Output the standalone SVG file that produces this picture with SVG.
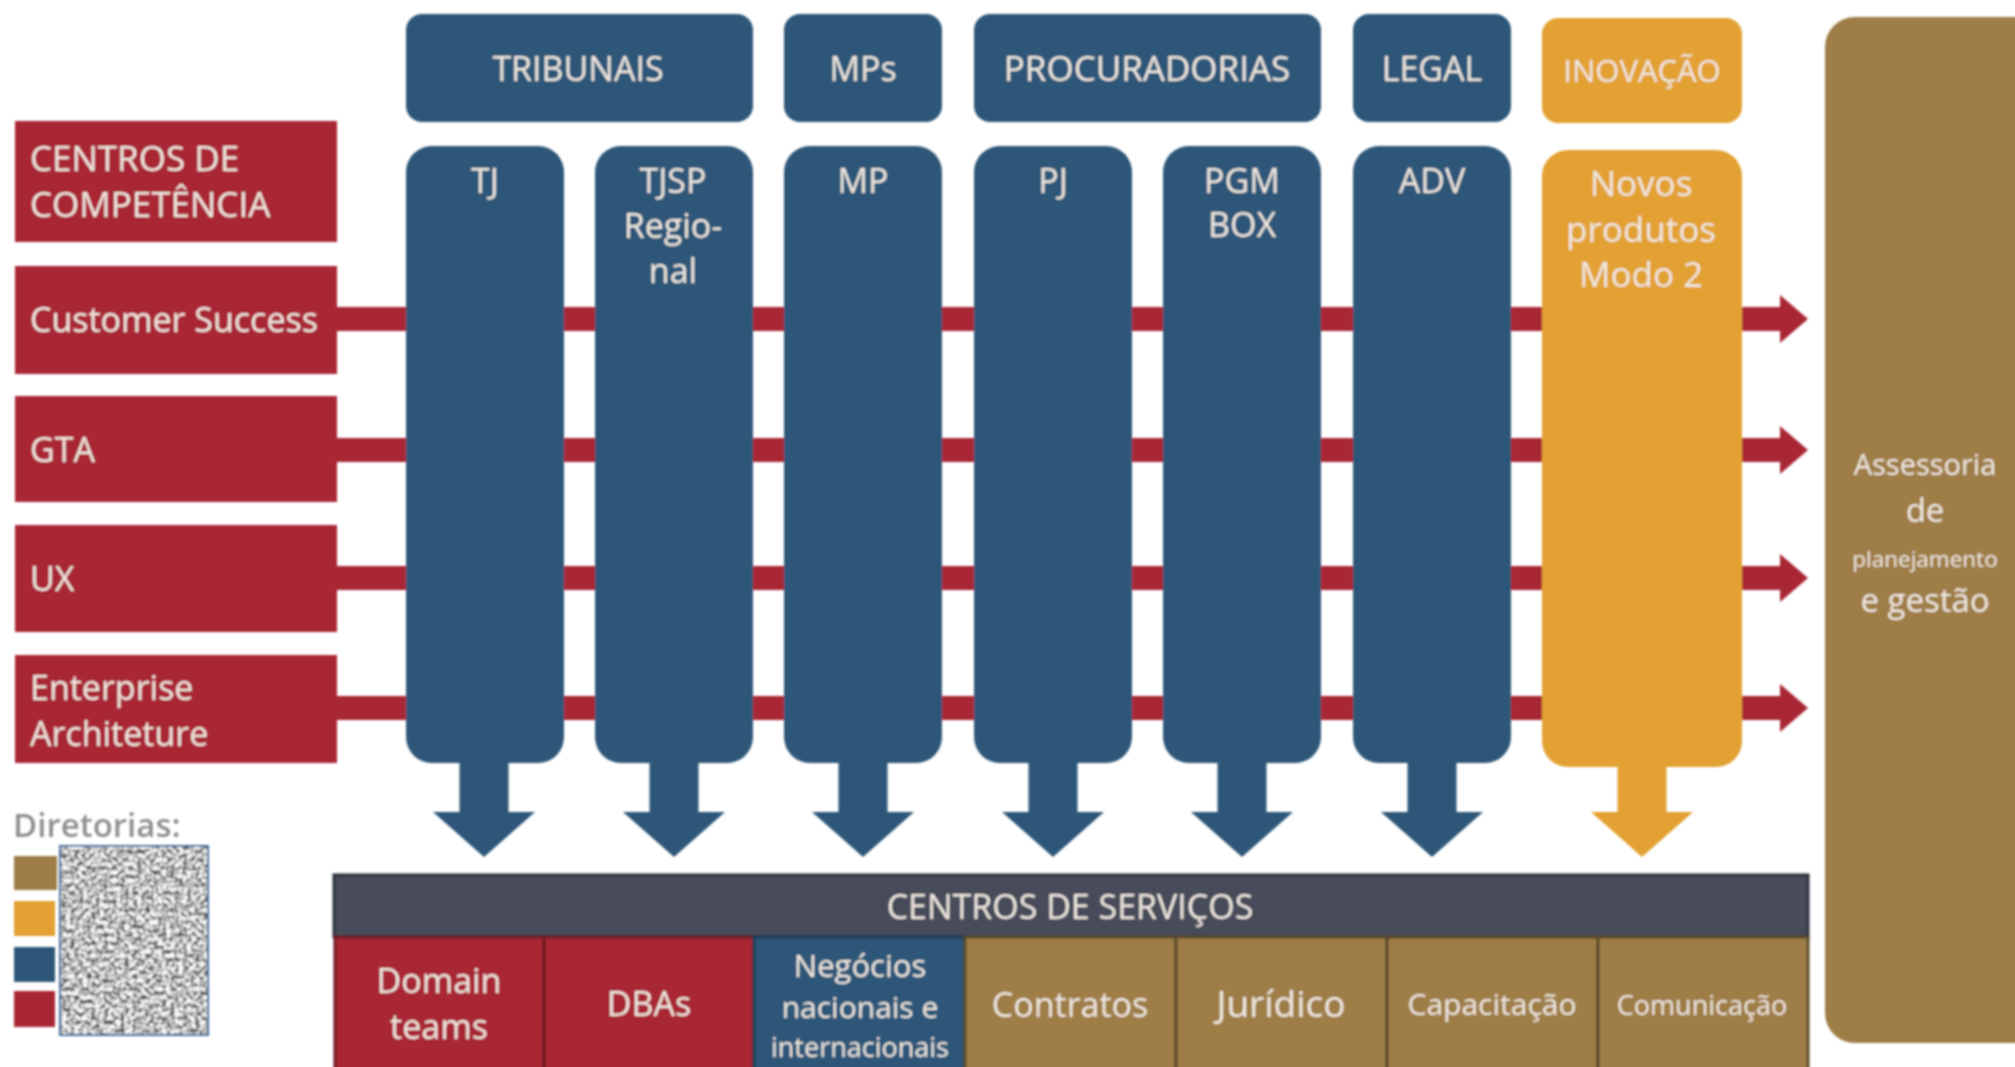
<svg xmlns="http://www.w3.org/2000/svg" width="2015" height="1067" viewBox="0 0 2015 1067">
<style>
text{font-family:"Open Sans","Liberation Sans",sans-serif;fill:#f0e8e0;text-anchor:middle;transform:translateY(1px)}
.l{text-anchor:start}
.red{fill:#a92735}.blue{fill:#2d5778}.or{fill:#e2a133}.br{fill:#9e7d47}
.cell{stroke:#5a4a2c;stroke-width:3}
.t{font-size:34px}
</style>
<defs>
<marker id="rh" markerUnits="userSpaceOnUse" markerWidth="30" markerHeight="48" refX="0" refY="24" orient="auto"><path d="M0 0L28 24L0 48Z" fill="#a92735"/></marker>
<marker id="bh" markerUnits="userSpaceOnUse" markerWidth="46" markerHeight="102" refX="0" refY="51" orient="auto"><path d="M0 0L45 51L0 102Z" fill="#2d5778"/></marker>
<marker id="oh" markerUnits="userSpaceOnUse" markerWidth="46" markerHeight="102" refX="0" refY="51" orient="auto"><path d="M0 0L45 51L0 102Z" fill="#e2a133"/></marker>
<filter id="noise" x="0" y="0" width="100%" height="100%" color-interpolation-filters="sRGB"><feTurbulence type="fractalNoise" baseFrequency="0.24" numOctaves="3" seed="11"/><feColorMatrix values="1 0 0 0 0 1 0 0 0 0 1 0 0 0 0 0 0 0 0 1"/><feComponentTransfer><feFuncR type="linear" slope="1.7" intercept="-0.12"/><feFuncG type="linear" slope="1.7" intercept="-0.12"/><feFuncB type="linear" slope="1.7" intercept="-0.12"/></feComponentTransfer><feGaussianBlur stdDeviation="0.7"/></filter>
<filter id="soft" x="0" y="0" width="2015" height="1067" filterUnits="userSpaceOnUse" primitiveUnits="userSpaceOnUse"><feGaussianBlur stdDeviation="0.8"/></filter>
</defs>
<g filter="url(#soft)">
<g id="connectors">
<g fill="none" stroke="#a92735" stroke-width="24">
<line x1="337" y1="319" x2="1780" y2="319" marker-end="url(#rh)"/>
<line x1="337" y1="450" x2="1780" y2="450" marker-end="url(#rh)"/>
<line x1="337" y1="578" x2="1780" y2="578" marker-end="url(#rh)"/>
<line x1="337" y1="708" x2="1780" y2="708" marker-end="url(#rh)"/>
</g>
<g fill="none" stroke="#2d5778" stroke-width="49">
<line x1="484" y1="760" x2="484" y2="812" marker-end="url(#bh)"/>
<line x1="674" y1="760" x2="674" y2="812" marker-end="url(#bh)"/>
<line x1="863" y1="760" x2="863" y2="812" marker-end="url(#bh)"/>
<line x1="1053" y1="760" x2="1053" y2="812" marker-end="url(#bh)"/>
<line x1="1242" y1="760" x2="1242" y2="812" marker-end="url(#bh)"/>
<line x1="1432" y1="760" x2="1432" y2="812" marker-end="url(#bh)"/>
</g>
<line x1="1642" y1="760" x2="1642" y2="812" fill="none" stroke="#e2a133" stroke-width="49" marker-end="url(#oh)"/>
</g>
<g id="h-tribunais"><rect class="blue" x="406" y="14" width="347" height="108" rx="16"/><text class="t" x="578" y="80">TRIBUNAIS</text></g>
<g id="h-mps"><rect class="blue" x="784" y="14" width="158" height="108" rx="16"/><text class="t" x="863" y="80">MPs</text></g>
<g id="h-procuradorias"><rect class="blue" x="974" y="14" width="347" height="108" rx="16"/><text x="1147" y="80" font-size="35">PROCURADORIAS</text></g>
<g id="h-legal"><rect class="blue" x="1353" y="14" width="158" height="108" rx="16"/><text class="t" x="1432" y="80">LEGAL</text></g>
<g id="h-inovacao"><rect class="or" x="1542" y="18" width="200" height="105" rx="16"/><text x="1642" y="81" font-size="31">INOVAÇÃO</text></g>
<g id="c-tj"><rect class="blue" x="406" y="146" width="158" height="617" rx="26"/><text class="t" x="485" y="192">TJ</text></g>
<g id="c-tjsp"><rect class="blue" x="595" y="146" width="158" height="617" rx="26"/><text class="t" x="673" y="192">TJSP<tspan x="673" dy="45">Regio-</tspan><tspan x="673" dy="45">nal</tspan></text></g>
<g id="c-mp"><rect class="blue" x="784" y="146" width="158" height="617" rx="26"/><text class="t" x="863" y="192">MP</text></g>
<g id="c-pj"><rect class="blue" x="974" y="146" width="158" height="617" rx="26"/><text class="t" x="1053" y="192">PJ</text></g>
<g id="c-pgm"><rect class="blue" x="1163" y="146" width="158" height="617" rx="26"/><text class="t" x="1242" y="192">PGM<tspan x="1242" dy="44">BOX</tspan></text></g>
<g id="c-adv"><rect class="blue" x="1353" y="146" width="158" height="617" rx="26"/><text class="t" x="1432" y="192">ADV</text></g>
<g id="c-novos"><rect class="or" x="1542" y="150" width="200" height="617" rx="26"/><text x="1641" y="195" font-size="35">Novos<tspan x="1641" dy="46">produtos</tspan><tspan x="1641" dy="45">Modo 2</tspan></text></g>
<g id="assessoria"><rect class="br" x="1825" y="17" width="230" height="1026" rx="30"/><text x="1925" y="474" font-size="29">Assessoria<tspan x="1925" dy="47" font-size="33">de</tspan><tspan x="1925" dy="45" font-size="22.5">planejamento</tspan><tspan x="1925" dy="45" font-size="33">e gestão</tspan></text></g>
<g id="r-centros"><rect class="red" x="15" y="121" width="322" height="121"/><text class="l" x="30" y="170" font-size="35">CENTROS DE<tspan x="30" dy="46">COMPETÊNCIA</tspan></text></g>
<g id="r-cs"><rect class="red" x="15" y="266" width="322" height="108"/><text class="t l" x="30" y="331">Customer Success</text></g>
<g id="r-gta"><rect class="red" x="15" y="396" width="322" height="106"/><text class="t l" x="30" y="461">GTA</text></g>
<g id="r-ux"><rect class="red" x="15" y="525" width="322" height="107"/><text class="t l" x="30" y="590">UX</text></g>
<g id="r-ea"><rect class="red" x="15" y="655" width="322" height="108"/><text class="t l" x="30" y="699">Enterprise<tspan x="30" dy="46">Architeture</tspan></text></g>
<g id="legend">
<text class="l" x="13" y="836" font-size="33" font-weight="600" style="fill:#8f918e">Diretorias:</text>
<rect class="br" x="14" y="856" width="43" height="34"/><rect class="or" x="14" y="901" width="41" height="35"/><rect class="blue" x="14" y="947" width="41" height="35"/><rect class="red" x="14" y="991" width="41" height="36"/>
<rect x="60" y="846" width="148" height="189" filter="url(#noise)"/><rect x="60" y="846" width="148" height="189" fill="none" stroke="#3f6f9f" stroke-width="2"/>
</g>
<g id="servicos">
<g id="s-header"><rect x="334" y="875" width="1474" height="62" fill="#474c5a" stroke="#2e323d" stroke-width="3"/><text class="t" x="1070" y="918">CENTROS DE SERVIÇOS</text></g>
<g id="s-domain"><rect class="red cell" style="stroke:#6e1a24" x="335" y="937" width="209" height="135"/><text class="t" x="439" y="992">Domain<tspan x="439" dy="46">teams</tspan></text></g>
<g id="s-dbas"><rect class="red cell" style="stroke:#6e1a24" x="544" y="937" width="210" height="135"/><text class="t" x="649" y="1015">DBAs</text></g>
<g id="s-negocios"><rect class="blue cell" style="stroke:#1f3f5a" x="754" y="937" width="211" height="135"/><text x="860" y="976" font-size="31">Negócios<tspan x="860" dy="41" font-size="30">nacionais e</tspan><tspan x="860" dy="39" font-size="27">internacionais</tspan></text></g>
<g id="s-contratos"><rect class="br cell" x="965" y="937" width="211" height="135"/><text class="t" x="1070" y="1016">Contratos</text></g>
<g id="s-juridico"><rect class="br cell" x="1176" y="937" width="211" height="135"/><text x="1281" y="1016" font-size="37">Jurídico</text></g>
<g id="s-capacitacao"><rect class="br cell" x="1387" y="937" width="211" height="135"/><text x="1492" y="1014" font-size="30">Capacitação</text></g>
<g id="s-comunicacao"><rect class="br cell" x="1598" y="937" width="210" height="135"/><text x="1702" y="1014" font-size="27">Comunicação</text></g>
</g>
</g>
</svg>
